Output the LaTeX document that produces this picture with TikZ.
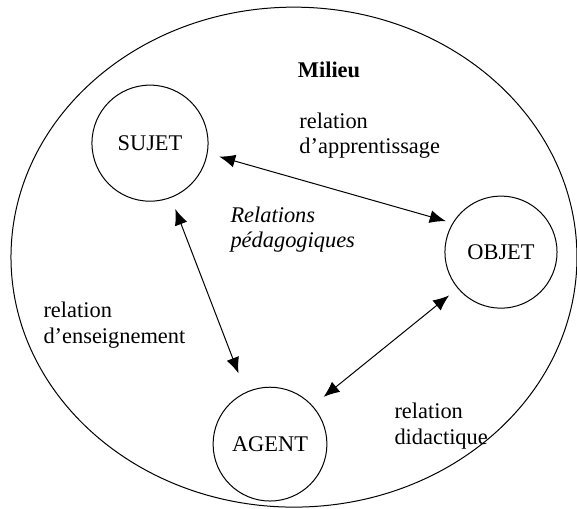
\documentclass[tikz,border=0pt]{standalone}
\usepackage{fontspec}
\setmainfont{Liberation Serif}
\usetikzlibrary{arrows.meta}
\begin{document}
\begin{tikzpicture}[>={Latex[length=8pt,width=6.5pt]}, line width=0.5pt, line join=round,
    font=\fontsize{11.2}{12.8}\selectfont,
    pole/.style={draw, circle, inner sep=0pt},
    etiquette/.style={anchor=west, align=left, inner sep=0pt},
    lien/.style={<->}]
    \useasboundingbox (0,0) rectangle (10.14,8.93);
    % le milieu
    \draw (5.166,4.411) ellipse [x radius=4.973, y radius=4.393];
    \node[font=\fontsize{11.2}{12.8}\selectfont\bfseries] (milieu) at (5.782,7.697) {Milieu};
    % les trois poles
    \node[pole, minimum size=2.04cm] (sujet) at (2.636,6.414) {SUJET};
    \node[pole, minimum size=1.97cm] (objet) at (8.804,4.499) {OBJET};
    \node[pole, minimum size=2.0cm] (agent) at (4.745,1.125) {AGENT};
    % les relations
    \draw[lien, shorten <=6pt, shorten >=3.5pt] (sujet.-10) -- (objet.149);
    \draw[lien, shorten <=6pt, shorten >=10pt] (sujet.-69) -- (agent.115);
    \draw[lien, shorten <=5.5pt, shorten >=7pt] (objet.220) -- (agent.42);
    \node[etiquette] (apprent) at (5.254,6.546) {relation\\d'apprentissage};
    \node[etiquette, font=\fontsize{11.2}{12.8}\selectfont\itshape] (peda) at (4.042,4.894) {Relations\\pédagogiques};
    \node[etiquette] (enseign) at (0.756,3.216) {relation\\d'enseignement};
    \node[etiquette] (didact) at (6.924,1.441) {relation\\didactique};
\end{tikzpicture}
\end{document}
